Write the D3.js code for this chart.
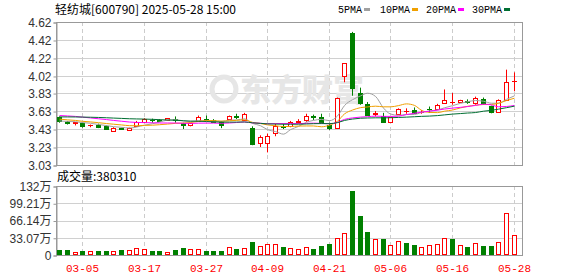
<!DOCTYPE html>
<html><head><meta charset="utf-8">
<script src="https://cdn.jsdelivr.net/npm/d3@7"></script>
<style>html,body{margin:0;padding:0;background:#fff;overflow:hidden}</style>
</head><body>
<svg id="c" width="578" height="276"></svg>
<script>
// ---- data ----
const dates = ["02-28","03-03","03-04","03-05","03-06","03-07","03-10","03-11","03-12","03-13",
  "03-14","03-17","03-18","03-19","03-20","03-21","03-24","03-25","03-26","03-27",
  "03-28","03-31","04-01","04-02","04-03","04-07","04-08","04-09","04-10","04-11",
  "04-14","04-15","04-16","04-17","04-18","04-21","04-22","04-23","04-24","04-25",
  "04-28","04-29","04-30","05-06","05-07","05-08","05-09","05-12","05-13","05-14",
  "05-15","05-16","05-19","05-20","05-21","05-22","05-23","05-26","05-27","05-28"];
const opens = [3.56,3.51,3.495,3.50,3.47,3.48,3.46,3.41,3.44,3.42,
  3.46,3.51,3.535,3.53,3.53,3.545,3.50,3.47,3.52,3.54,
  3.53,3.51,3.54,3.57,3.53,3.44,3.28,3.28,3.39,3.46,
  3.46,3.51,3.53,3.57,3.56,3.48,3.44,4.02,4.50,3.83,
  3.71,3.60,3.57,3.51,3.60,3.63,3.64,3.615,3.655,3.655,
  3.72,3.73,3.73,3.74,3.72,3.76,3.69,3.62,3.75,3.96];
const highs = [3.57,3.52,3.505,3.50,3.48,3.49,3.47,3.45,3.445,3.445,
  3.52,3.55,3.545,3.54,3.55,3.57,3.50,3.50,3.58,3.58,
  3.54,3.52,3.58,3.60,3.61,3.46,3.36,3.38,3.49,3.49,
  3.52,3.54,3.60,3.59,3.60,3.50,3.78,4.16,4.51,3.89,
  3.73,3.63,3.61,3.56,3.66,3.66,3.67,3.64,3.68,3.71,
  3.87,3.83,3.755,3.76,3.79,3.78,3.69,3.76,4.09,4.06];
const lows = [3.50,3.48,3.47,3.445,3.45,3.44,3.42,3.40,3.42,3.41,
  3.46,3.51,3.50,3.515,3.53,3.50,3.43,3.46,3.52,3.52,
  3.50,3.44,3.53,3.54,3.53,3.25,3.23,3.17,3.35,3.43,
  3.45,3.49,3.51,3.53,3.49,3.42,3.43,3.95,3.80,3.70,
  3.58,3.57,3.51,3.50,3.59,3.60,3.605,3.60,3.61,3.65,
  3.71,3.70,3.725,3.71,3.70,3.70,3.605,3.61,3.75,3.85];
const closes = [3.52,3.50,3.505,3.465,3.48,3.455,3.435,3.445,3.43,3.44,
  3.51,3.54,3.525,3.52,3.55,3.535,3.47,3.50,3.56,3.535,
  3.51,3.47,3.57,3.565,3.60,3.26,3.34,3.35,3.46,3.455,
  3.51,3.52,3.58,3.565,3.51,3.44,3.78,4.16,3.89,3.72,
  3.59,3.605,3.51,3.56,3.65,3.63,3.61,3.62,3.65,3.70,
  3.75,3.73,3.75,3.735,3.77,3.71,3.62,3.75,3.95,3.965];
// volume in 万
const volumes = [10,10,5.7,8.3,7.6,8.3,8.3,7.6,10,10,
  13.4,12,8.3,8.3,6.4,10,14,12,12,8.3,
  8.3,8.3,16,12,14,25.5,17.9,21.7,21.7,16,
  13.4,12,16,12,17.9,21.7,32.5,42.7,123,75.2,
  44.6,30.6,30.6,19.1,26.8,23.6,19.1,15.3,19.1,21,
  32.5,31.2,19.1,15.3,23.6,17.9,17.9,25.5,80.4,38.03];
// closes of the 29 sessions before the window (estimated so the MAs start where they do)
const priorCloses = [3.50,3.52,3.51,3.53,3.52,3.54,3.55,3.54,3.56,3.57,
  3.59,3.61,3.63,3.65,3.64,3.62,3.63,3.61,3.62,3.60,
  3.58,3.57,3.56,3.55,3.54,3.53,3.52,3.51,3.52];
const priceTicks = [3.03,3.23,3.43,3.63,3.83,4.02,4.22,4.42,4.62];
const volTicks = [0,33.07,66.14,99.21,132.28];
const volTickLabels = ["0","33.07万","66.14万","99.21万","132万"];
const xTickDates = ["03-05","03-17","03-27","04-09","04-21","05-06","05-16","05-28"];
const maPeriods = [5,10,20,30];
const maNames = ["5PMA","10PMA","20PMA","30PMA"];
const maColors = ["#a0a0a0","#f0a000","#ff00ff","#006e32"];
const title = "轻纺城[600790] 2025-05-28 15:00";
const volTitle = "成交量:380310";

// ---- layout ----
const L = 56, R = 522, PT = 22, PB = 165, VT = 186, VB = 255;
const RED = "#ff0000", GREEN = "#008000";
const svg = d3.select("#c");
const idx = d3.range(dates.length);
const x = d3.scaleBand().domain(idx).range([L, 518]);
const cx = i => Math.floor(x(i) + x.bandwidth() / 2) + 0.5;
const y = d3.scaleLinear().domain([3.03, 4.62]).range([PB, PT]);
const yv = d3.scaleLinear().domain([0, 132.28]).range([VB, VT]);
const crisp = v => Math.round(v) + 0.5;
const xTickIdx = xTickDates.map(d => dates.indexOf(d));

// grid
const g = svg.append("g");
g.selectAll(".hp").data(priceTicks).join("line")
  .attr("x1", L).attr("x2", R).attr("y1", d => crisp(y(d))).attr("y2", d => crisp(y(d)))
  .attr("stroke", "#d0d0d0");
g.selectAll(".hv").data(volTicks).join("line")
  .attr("x1", L).attr("x2", R).attr("y1", d => crisp(yv(d))).attr("y2", d => crisp(yv(d)))
  .attr("stroke", "#d0d0d0");
[[PT, PB], [VT, VB]].forEach(([a, b]) => {
  g.append("g").selectAll("line").data(xTickIdx).join("line")
    .attr("x1", d => cx(d)).attr("x2", d => cx(d)).attr("y1", a).attr("y2", b)
    .attr("stroke", "#cccccc").attr("stroke-dasharray", "4,3");
});

// watermark
const wm = svg.append("g").attr("fill", "#e6e6e6");
wm.append("circle").attr("cx", 224).attr("cy", 89).attr("r", 12)
  .attr("fill", "none").attr("stroke", "#e6e6e6").attr("stroke-width", 5);
wm.append("text").attr("x", 240).attr("y", 101).text("东方财富")
  .attr("font-family", "Noto Sans CJK SC").attr("font-weight", 900).attr("font-size", 31);

// borders
svg.append("rect").attr("x", L + 0.5).attr("y", PT + 0.5).attr("width", R - L).attr("height", PB - PT)
  .attr("fill", "none").attr("stroke", "#999");
svg.append("rect").attr("x", L + 0.5).attr("y", VT + 0.5).attr("width", R - L).attr("height", VB - VT)
  .attr("fill", "none").attr("stroke", "#999");

// axes
const axP = svg.append("g").attr("transform", `translate(${L + 0.5},0.5)`)
  .call(d3.axisLeft(y).tickValues(priceTicks).tickSize(3).tickPadding(2).tickFormat(d3.format(".2f")));
const axV = svg.append("g").attr("transform", `translate(${L + 0.5},0.5)`)
  .call(d3.axisLeft(yv).tickValues(volTicks).tickSize(3).tickPadding(2).tickFormat((d, i) => volTickLabels[i]));
[axP, axV].forEach(a => {
  a.select(".domain").attr("stroke", "#999");
  a.selectAll(".tick line").attr("stroke", "#999");
  a.selectAll(".tick text").attr("font-family", "Liberation Sans, Noto Sans CJK SC")
    .attr("font-size", 12).attr("fill", "#333");
});

// x labels
svg.append("g").selectAll("text").data(xTickIdx).join("text")
  .attr("x", d => cx(d)).attr("y", 272).attr("text-anchor", "middle")
  .attr("font-family", "Liberation Mono, monospace").attr("font-size", 11).attr("fill", RED)
  .text(d => dates[d]);

// candles
const bw = 5;
const cg = svg.append("g");
idx.forEach(i => {
  const o = opens[i], c = closes[i], up = c >= o;
  const col = up ? RED : GREEN;
  const xc = cx(i), x0 = xc - 0.5 - Math.floor(bw / 2);
  cg.append("line").attr("x1", xc).attr("x2", xc)
    .attr("y1", y(highs[i])).attr("y2", y(lows[i])).attr("stroke", col);
  const top = Math.round(y(Math.max(o, c))), bot = Math.round(y(Math.min(o, c)));
  if (bot - top < 1) {
    cg.append("line").attr("x1", x0).attr("x2", x0 + bw)
      .attr("y1", top + 0.5).attr("y2", top + 0.5).attr("stroke", col);
  } else if (up) {
    cg.append("rect").attr("x", x0 + 0.5).attr("y", top + 0.5).attr("width", bw - 1).attr("height", bot - top)
      .attr("fill", "#fff").attr("stroke", col);
  } else {
    cg.append("rect").attr("x", x0).attr("y", top).attr("width", bw).attr("height", bot - top + 1)
      .attr("fill", col);
  }
});

// volume bars (colour by change versus previous close)
const vg = svg.append("g");
idx.forEach(i => {
  const prev = i === 0 ? opens[0] : closes[i - 1];
  const up = closes[i] >= prev;
  const xc = cx(i), x0 = xc - 0.5 - Math.floor(bw / 2);
  const top = Math.round(yv(volumes[i]));
  if (up) {
    vg.append("rect").attr("x", x0 + 0.5).attr("y", top + 0.5).attr("width", bw - 1).attr("height", VB - top - 1)
      .attr("fill", "#fff").attr("stroke", RED);
  } else {
    vg.append("rect").attr("x", x0).attr("y", top).attr("width", bw).attr("height", VB - top)
      .attr("fill", GREEN);
  }
});

// moving averages
const all = priorCloses.concat(closes);
const off = priorCloses.length;
maPeriods.forEach((n, k) => {
  const vals = idx.map(i => d3.mean(all.slice(i + off - n + 1, i + off + 1)));
  svg.append("path").datum(vals)
    .attr("d", d3.line().x((d, i) => cx(i)).y(d => y(d)).curve(d3.curveMonotoneX))
    .attr("fill", "none").attr("stroke", maColors[k]).attr("stroke-width", 1);
});

// titles
svg.append("text").attr("x", 55).attr("y", 14).text(title)
  .attr("font-family", "Noto Sans CJK SC").attr("font-size", 12).attr("fill", "#000");
svg.append("text").attr("x", 57).attr("y", 181).text(volTitle)
  .attr("font-family", "Noto Sans CJK SC").attr("font-size", 12).attr("fill", "#000");

// legend
const legX = [338, 380, 426, 472];
maNames.forEach((nm, k) => {
  const t = svg.append("text").attr("x", legX[k]).attr("y", 13).text(nm)
    .attr("font-family", "Liberation Mono, monospace").attr("font-size", 10).attr("fill", "#000");
  const w = t.node().getComputedTextLength();
  svg.append("rect").attr("x", legX[k] + w + 2).attr("y", 8).attr("width", 6).attr("height", 3)
    .attr("fill", maColors[k]);
});
</script>
</body></html>
